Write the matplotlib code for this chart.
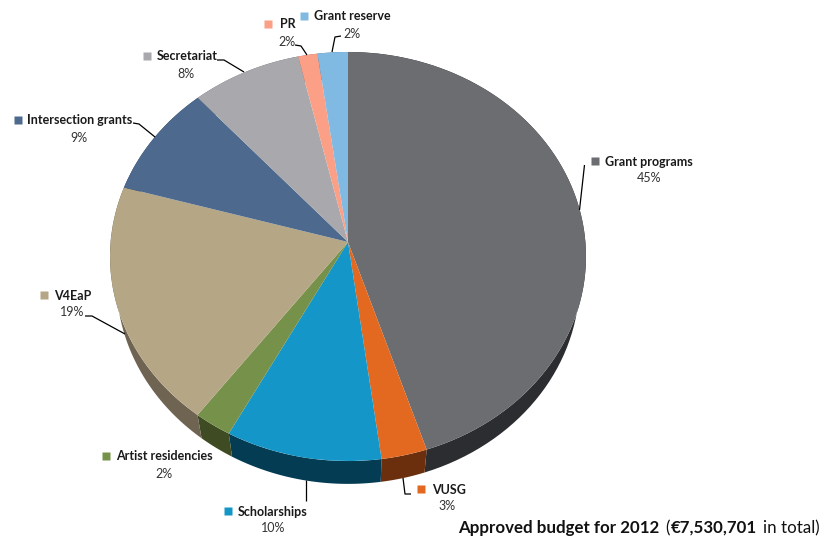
import matplotlib
matplotlib.use("Agg")
import numpy as np
import matplotlib.pyplot as plt
from matplotlib.path import Path
from matplotlib.transforms import Transform

categories = ["Grant programs", "VUSG", "Scholarships", "Artist residencies", "V4EaP",
              "Intersection grants", "Secretariat", "PR", "Grant reserve"]
values = [45.0, 2.9, 9.9, 2.4, 19.2, 9.0, 8.0, 1.4, 2.2]
percent_labels = ["45%", "3%", "10%", "2%", "19%", "9%", "8%", "2%", "2%"]
top_colors = ["#6b6d70", "#e2691f", "#1496c8", "#76924a", "#b5a685",
              "#4d6a8e", "#a9a9ad", "#fb9f86", "#80bae2"]
side_colors = ["#2c2d30", "#6c2f0e", "#043c54", "#3f4b22", "#6f6352",
               "#2d3f55", "#66666a", "#96604f", "#4d7088"]

# label layout: square centre x, y, text left x, percent centre x, percent y
label_pos = [(595, 161, 605, 649, 178), (421, 489, 432, 447, 506), (228, 511, 238, 273, 527),
             (106, 456, 116, 164, 473), (44, 295, 54, 72, 312), (18, 120, 27, 79, 137),
             (147, 56, 157, 186, 73), (268, 24, 280, 287, 41), (304, 16, 314, 352, 33)]
leaders = [[(584.5, 165), (579.5, 210)], [(403, 478), (405, 494), (411, 494)], [(306, 480), (306, 501)],
           None, [(85, 316), (92, 316), (125, 334)], [(133, 123), (139, 124), (155, 137)],
           [(217, 60), (224, 60), (244, 72)], [(295, 45), (301, 46), (307, 55)],
           [(341, 36), (335, 37), (332, 52)]]


class Perspective(Transform):
    """Tilted-disc projection of the unit pie onto figure pixels."""
    input_dims = output_dims = 2
    has_inverse = False
    is_separable = False

    def __init__(self, cx, cy, a, c, k):
        super().__init__()
        self.cx, self.cy, self.a, self.c, self.k = cx, cy, a, c, k

    def transform_non_affine(self, xy):
        xy = np.asarray(xy, dtype=float)
        w = 1 + self.k * xy[:, 1]
        return np.column_stack((self.cx + self.a * xy[:, 0] / w,
                                self.cy - self.c * xy[:, 1] / w))

    def transform_path_non_affine(self, path):
        return Path(self.transform_non_affine(path.vertices), path.codes)


W, H = 823, 543
fig = plt.figure(figsize=(W / 100, H / 100), dpi=100)
ax = fig.add_axes([0, 0, 1, 1])

top, _ = ax.pie(values, colors=top_colors, startangle=90, counterclock=False, radius=1)
ax.set_aspect("auto")
ax.set_xlim(0, W)
ax.set_ylim(H, 0)
ax.axis("off")

side_tf = Perspective(348, 267, 231, 201.5, 0.0709)
top_tf = Perspective(348, 242, 237.4, 203.5, 0.0709)
for w in top:
    w.set_transform(top_tf + ax.transData)
    w.set_clip_on(False)
    w.set_linewidth(0)
    w.set_zorder(2)

# side wall of the disc: the band between the upper and lower rims of each slice
edges = np.cumsum([0.0] + values) / sum(values) * 2 * np.pi
for start, stop, col in zip(edges[:-1], edges[1:], side_colors):
    th = np.linspace(start, stop, 80)
    rim = np.column_stack((np.sin(th), np.cos(th)))
    upper = top_tf.transform_non_affine(rim)
    lower = side_tf.transform_non_affine(rim)
    poly = np.vstack((upper, lower[::-1]))
    ax.fill(poly[:, 0], poly[:, 1], color=col, lw=0, zorder=1)

font = "Lato"
for name, pct, col, pos, lead in zip(categories, percent_labels, top_colors, label_pos, leaders):
    sx, sy, tx, px, py = pos
    ax.plot([sx], [sy], marker="s", ms=6, mfc=col, mec="none", ls="none", zorder=4)
    ax.text(tx, sy + 0.5, name, family=font, weight="bold", fontsize=9, color="#1a1a1a",
            va="center", ha="left", zorder=4)
    ax.text(px, py + 0.5, pct, family=font, fontsize=9, color="#333333", va="center", ha="center", zorder=4)
    if lead is not None:
        ax.plot(*zip(*lead), color="black", lw=0.9, zorder=3, solid_capstyle="butt")

# caption: mixed weights placed one after the other
caption = [("Approved budget for 2012", "bold", 6), ("(", "normal", 1),
           ("€7,530,701", "bold", 6), ("in total)", "normal", 0)]
renderer = fig.canvas.get_renderer()
x = 458
for txt, weight, gap in caption:
    t = ax.text(x, 533, txt, family="Lato", weight=weight, fontsize=12.2, color="#111111",
                va="baseline", ha="left", zorder=4)
    x += t.get_window_extent(renderer).width + gap

fig.savefig("out.png", dpi=100, facecolor="white")
